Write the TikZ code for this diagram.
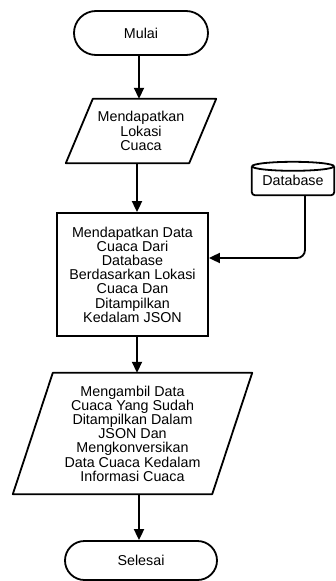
\documentclass[tikz,border=0pt]{standalone}
\usepackage{fontspec}
\setmainfont{Liberation Sans}
\usepackage{tikz}
\usetikzlibrary{calc,shapes,positioning}
\usetikzlibrary{arrows.meta}
\tikzset{>={Triangle[width=10pt,length=11pt]}}

\begin{document}
\begin{tikzpicture}[x=1pt,y=-1pt]
        \tikzstyle{txt} = [font=\fontsize{14.3}{14.2}\selectfont, align=center, inner sep=0pt]
        \tikzstyle{tnode} = [txt, thick, draw=black, line width=1.8pt, rectangle]
        \tikzstyle{pnode} = [txt, rectangle]
        \tikzstyle{pline} = [draw=black, line width=1.8pt, line join=round]
        \tikzstyle{flow} = [draw=black, line width=1.8pt, ->]

        \useasboundingbox (0,0) rectangle (335,581);

        % terminators
        \node[tnode, minimum width=134pt, minimum height=44pt, rounded corners=22pt] (mulai) at (141,33) {Mulai};
        \node[tnode, minimum width=152pt, minimum height=39pt, rounded corners=19.5pt] (selesai) at (141,560.5) {Selesai};

        % input / output
        \node[pnode, minimum width=150pt, minimum height=64pt] (lokasi) at (141,131) {Mendapatkan\\Lokasi\\Cuaca};
        \draw[pline] ([xshift=27pt]lokasi.north west) -- (lokasi.north east)
          -- ([xshift=-27pt]lokasi.south east) -- (lokasi.south west) -- cycle;

        \node[pnode, minimum width=239pt, minimum height=121pt] (konversi) at (132.5,433.5)
          {Mengambil Data\\Cuaca Yang Sudah\\Ditampilkan Dalam\\JSON Dan\\Mengkonversikan\\Data Cuaca Kedalam\\Informasi Cuaca};
        \draw[pline] ([xshift=40pt]konversi.north west) -- (konversi.north east)
          -- ([xshift=-40pt]konversi.south east) -- (konversi.south west) -- cycle;

        % process
        \node[tnode, minimum width=151pt, minimum height=123pt] (ambil) at (132.5,274.5)
          {Mendapatkan Data\\Cuaca Dari\\Database\\Berdasarkan Lokasi\\Cuaca Dan\\Ditampilkan\\Kedalam JSON};

        % database
        \node[pnode, minimum width=82pt, minimum height=28.5pt] (db) at (293,180.75) {Database};
        \draw[pline, rounded corners=3pt] (db.north west) -- (db.south west) -- (db.south east) -- (db.north east);
        \draw[pline] (db.north) ellipse [x radius=41pt, y radius=4.5pt];

        \path
        ([xshift=-2pt]mulai.south) edge[flow] ([xshift=-2pt]mulai.south |- lokasi.north)
        ([xshift=-4pt]lokasi.south) edge[flow] ([xshift=-4pt]lokasi.south |- ambil.north)
        ([xshift=4.5pt]ambil.south) edge[flow] ([xshift=4.5pt]ambil.south |- konversi.north)
        ([xshift=6.5pt]konversi.south) edge[flow] ([xshift=6.5pt]konversi.south |- selesai.north)
        ;
        \draw[flow, rounded corners=8pt] ([xshift=12pt]db.south) |- ([yshift=16.5pt]ambil.east);
\end{tikzpicture}
\end{document}
